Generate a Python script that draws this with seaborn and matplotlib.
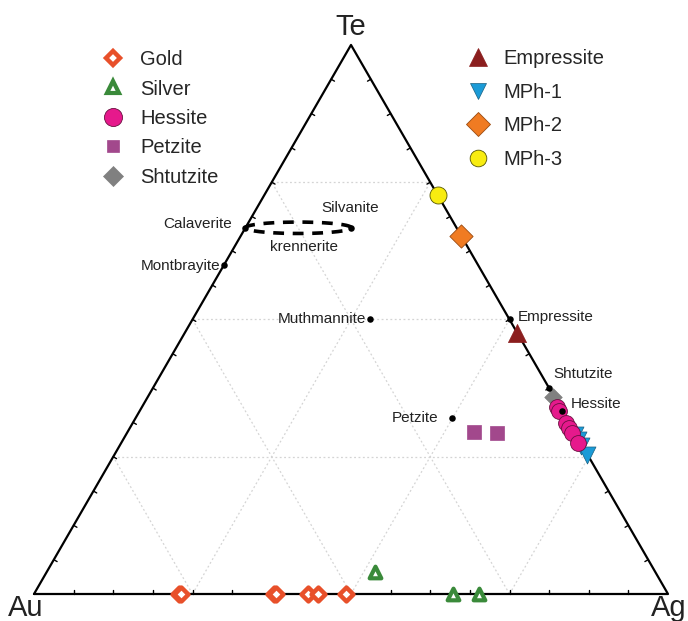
import numpy as np
import pandas as pd
import matplotlib
matplotlib.use("Agg")
import matplotlib.pyplot as plt
import seaborn as sns
from matplotlib.lines import Line2D

sns.set_theme(style="white")
plt.rcParams["font.family"] = ["Liberation Sans", "DejaVu Sans"]

# compositions as atomic fractions: Ag and Te (Au is the remainder)
GOLD_AG = [0.228, 0.232, 0.378, 0.382, 0.432, 0.448, 0.492]
GOLD_TE = [0.0, 0.0, 0.0, 0.0, 0.0, 0.0, 0.0]

SILVER_AG = [0.518, 0.661, 0.702]
SILVER_TE = [0.040, 0.0, 0.0]

HESSITE_AG = [0.655, 0.662, 0.684, 0.693, 0.702, 0.720]
HESSITE_TE = [0.340, 0.333, 0.311, 0.302, 0.293, 0.275]

PETZITE_AG = [0.546, 0.584]
PETZITE_TE = [0.295, 0.293]

SHTUTZITE_AG = [0.639]
SHTUTZITE_TE = [0.359]

EMPRESSITE_AG = [0.525]
EMPRESSITE_TE = [0.475]

MPH1_AG = [0.708, 0.718, 0.728, 0.745]
MPH1_TE = [0.290, 0.280, 0.270, 0.253]

MPH2_AG = [0.348]
MPH2_TE = [0.652]

MPH3_AG = [0.273]
MPH3_TE = [0.727]

# ideal mineral compositions (black dots)
REF_NAMES = ["Calaverite", "Montbrayite", "Silvanite", "Muthmannite",
             "Empressite", "Shtutzite", "Hessite", "Petzite"]
REF_AG = [0.0, 0.0, 0.167, 0.28, 0.5, 0.625, 0.667, 0.50]
REF_TE = [0.667, 0.60, 0.667, 0.5, 0.5, 0.375, 0.333, 0.32]

GRID_LEVELS = [0.25, 0.5, 0.75]
TICK_LEVELS = [k / 16 for k in range(1, 16)]

H = np.sqrt(3) / 2


def to_xy(ag, te):
    ag = np.asarray(ag, float)
    te = np.asarray(te, float)
    return ag + te / 2, te * H


def frame(ag, te, name):
    x, y = to_xy(ag, te)
    return pd.DataFrame({"x": x, "y": y, "phase": name})


fig = plt.figure(figsize=(6.88, 6.21), dpi=100)
ax = fig.add_axes([0, 0, 1, 1])
ax.set_xlim(-34 / 634, 1 + 20 / 634)
ax.set_ylim(-27 / 634, (621 - 27) / 634)
ax.set_aspect("equal")
ax.axis("off")

# dotted grid
for f in GRID_LEVELS:
    for (a1, t1), (a2, t2) in [((0, f), (1 - f, f)),
                               ((f, 0), (f, 1 - f)),
                               ((1 - f, 0), (0, 1 - f))]:
        xs, ys = to_xy([a1, a2], [t1, t2])
        ax.plot(xs, ys, color="#d4d4d4", lw=0.9, ls=(0, (1.5, 2)), zorder=1)

# triangle frame
xs, ys = to_xy([0, 1, 0, 0], [0, 0, 1, 0])
ax.plot(xs, ys, color="black", lw=1.6, zorder=2)

# ticks, pointing inward
tl = 0.006
for f in TICK_LEVELS:
    x, y = to_xy(f, 0)
    ax.plot([x, x], [y, y + tl], color="black", lw=1, zorder=2)
    x, y = to_xy(0, f)
    ax.plot([x, x + tl * H], [y, y - tl / 2], color="black", lw=1, zorder=2)
    x, y = to_xy(1 - f, f)
    ax.plot([x, x - tl * H], [y, y - tl / 2], color="black", lw=1, zorder=2)

# krennerite field: dashed loop between calaverite and silvanite
cx, cy = to_xy([REF_AG[0], REF_AG[2]], [REF_TE[0], REF_TE[2]])
t = np.linspace(0, 2 * np.pi, 200)
mx, my = cx.mean(), cy.mean()
half = (cx[1] - cx[0]) / 2
ax.plot(mx + half * np.cos(t), my + 0.009 * np.sin(t), color="black",
        lw=2.6, ls=(0, (3, 2.4)), zorder=3)

styles = [
    ("Gold", GOLD_AG, GOLD_TE, dict(marker="D", s=50, facecolor="white",
                                     edgecolor="#e8502a", linewidth=3.2)),
    ("Silver", SILVER_AG, SILVER_TE, dict(marker="^", s=70, facecolor="white",
                                           edgecolor="#3a8a3a", linewidth=3.0)),
    ("Hessite", HESSITE_AG, HESSITE_TE, dict(marker="o", s=130, color="#e6198c",
                                             edgecolor="#6a1040", linewidth=0.6)),
    ("Petzite", PETZITE_AG, PETZITE_TE, dict(marker="s", s=90, color="#a2488c",
                                             edgecolor="#a2488c", linewidth=0.5)),
    ("Shtutzite", SHTUTZITE_AG, SHTUTZITE_TE, dict(marker="D", s=80, color="#808080",
                                                   edgecolor="#808080", linewidth=0.5)),
    ("Empressite", EMPRESSITE_AG, EMPRESSITE_TE, dict(marker="^", s=170, color="#8b1e1e",
                                                      edgecolor="#8b1e1e", linewidth=0.5)),
    ("MPh-1", MPH1_AG, MPH1_TE, dict(marker="v", s=150, color="#1b9bd7",
                                     edgecolor="#1a5f80", linewidth=0.5)),
    ("MPh-2", MPH2_AG, MPH2_TE, dict(marker="D", s=140, color="#f07b22",
                                     edgecolor="#9a4a10", linewidth=0.6)),
    ("MPh-3", MPH3_AG, MPH3_TE, dict(marker="o", s=150, color="#f8ec10",
                                     edgecolor="#555500", linewidth=0.6)),
]

draw_order = ["MPh-1", "Gold", "Silver", "Petzite", "Shtutzite", "Hessite",
              "Empressite", "MPh-2", "MPh-3"]
by_name = {s[0]: s for s in styles}
for i, name in enumerate(draw_order):
    _, ag, te, kw = by_name[name]
    sns.scatterplot(data=frame(ag, te, name), x="x", y="y", ax=ax,
                    legend=False, zorder=4 + i, **kw)

# ideal compositions
ref = frame(REF_AG, REF_TE, "ref")
sns.scatterplot(data=ref, x="x", y="y", ax=ax, color="black", s=22,
                edgecolor="black", linewidth=0, legend=False, zorder=20)

label_pos = {
    "Calaverite": (-10, 3, "right"),
    "Montbrayite": (-3, -1, "right"),
    "Silvanite": (-1, 14, "center"),
    "Muthmannite": (-3, 0, "right"),
    "Empressite": (6, 2, "left"),
    "Shtutzite": (3, 10, "left"),
    "Hessite": (6, 5, "left"),
    "Petzite": (-10, 0, "right"),
}
for name, x, y in zip(REF_NAMES, ref["x"], ref["y"]):
    dx, dy, ha = label_pos[name]
    ax.annotate(name, (x, y), xytext=(dx, dy), textcoords="offset points",
                ha=ha, va="center", fontsize=11, color="#222222", zorder=21)
kx, ky = to_xy(0.083, 0.667)
ax.annotate("krennerite", (kx, ky), xytext=(4, -14), textcoords="offset points",
            ha="center", va="center", fontsize=11, color="#222222")

# vertex labels
ax.annotate("Te", to_xy(0, 1), xytext=(0, 3), textcoords="offset points",
            ha="center", va="bottom", fontsize=21, color="#222222")
ax.annotate("Au", to_xy(0, 0), xytext=(-19, -10), textcoords="offset points",
            ha="left", va="center", fontsize=21, color="#222222")
ax.annotate("Ag", to_xy(1, 0), xytext=(-12, -10), textcoords="offset points",
            ha="left", va="center", fontsize=21, color="#222222",
            annotation_clip=False)


def handle(kw, size):
    fc = kw.get("facecolor", kw.get("color"))
    return Line2D([], [], ls="none", marker=kw["marker"], markersize=size,
                  markerfacecolor=fc, markeredgecolor=kw["edgecolor"],
                  markeredgewidth=kw["linewidth"])


left = ["Gold", "Silver", "Hessite", "Petzite", "Shtutzite"]
right = ["Empressite", "MPh-1", "MPh-2", "MPh-3"]
sizes = {"Gold": 7, "Silver": 8, "Hessite": 13, "Petzite": 9, "Shtutzite": 10,
         "Empressite": 13, "MPh-1": 12, "MPh-2": 12, "MPh-3": 12}

leg1 = ax.legend([handle(by_name[n][3], sizes[n]) for n in left], left,
                 loc="upper left", bbox_to_anchor=(90 / 688, 1 - 42 / 621),
                 frameon=False, fontsize=14.5, labelspacing=0.52,
                 handletextpad=0.6, borderaxespad=0, handlelength=1.5,
                 bbox_transform=fig.transFigure)
ax.add_artist(leg1)
ax.legend([handle(by_name[n][3], sizes[n]) for n in right], right,
          loc="upper left", bbox_to_anchor=(455 / 688, 1 - 41 / 621),
          frameon=False, fontsize=14.5, labelspacing=0.72,
          handletextpad=0.5, borderaxespad=0, handlelength=1.5,
          bbox_transform=fig.transFigure)

fig.savefig("out.png", dpi=100)
